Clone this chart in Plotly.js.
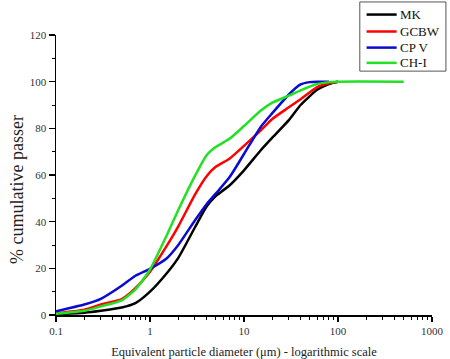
<!DOCTYPE html>
<html>
<head>
<meta charset="utf-8">
<script src="https://cdn.plot.ly/plotly-3.0.1.min.js"></script>
<style>
  html, body { margin: 0; padding: 0; background: #fff; }
  #chart { width: 450px; height: 359px; }
</style>
</head>
<body>
<div id="chart"></div>
<script>
// Particle size distributions: cumulative passing (%) vs equivalent diameter (µm)
const sizesMK   = [0.1, 0.2, 0.3, 0.5, 0.7, 1, 1.5, 2, 3, 4, 5, 7, 10, 15, 20, 30, 40, 60, 80, 100];
const passMK    = [0.4, 1.0, 1.8, 3.2, 5.1, 10, 17.8, 24.5, 37.5, 46.5, 51, 55.5, 62, 70.5, 76, 83.5, 90, 96.5, 99, 100];

const sizesGCBW = [0.1, 0.2, 0.3, 0.5, 0.7, 1, 1.5, 2, 3, 4, 5, 7, 10, 15, 20, 30, 40, 60, 80, 100];
const passGCBW  = [0.8, 2.3, 4.5, 6.8, 11.5, 18.5, 29.5, 38, 51.5, 59.5, 63.5, 67, 72.5, 79, 84, 89, 92.5, 97.7, 99.3, 100];

const sizesCPV  = [0.1, 0.2, 0.3, 0.5, 0.7, 1, 1.5, 2, 3, 4, 5, 7, 10, 15, 20, 30, 40, 50, 60, 80];
const passCPV   = [1.6, 4.5, 6.9, 12.5, 16.8, 19.8, 24.2, 30, 40.5, 47.5, 52, 59, 69, 80.5, 86.5, 94.5, 98.8, 99.8, 100, 100];

const sizesCHI  = [0.1, 0.2, 0.3, 0.5, 0.7, 1, 1.5, 2, 3, 4, 5, 7, 10, 15, 20, 30, 40, 60, 80, 100, 500];
const passCHI   = [0.5, 1.8, 3.7, 6.3, 11, 19.5, 34, 45, 59.5, 68.5, 72, 75.5, 81, 87.5, 91, 94, 96.3, 99, 99.8, 100, 100];

const seriesNames  = ['MK', 'GCBW', 'CP V', 'CH-I'];
const seriesColors = ['#000000', '#ff0000', '#0a0ad0', '#22e022'];
const seriesX = [sizesMK, sizesGCBW, sizesCPV, sizesCHI];
const seriesY = [passMK, passGCBW, passCPV, passCHI];

const xTickVals  = [0.1, 1, 10, 100, 1000];
const xTickText  = ['0.1', '1', '10', '100', '1000'];
const xMinorVals = [];
for (let dec = 0.1; dec < 1000; dec *= 10) {
  for (let k = 2; k <= 9; k++) xMinorVals.push(+(k * dec).toPrecision(3));
}

const serif = 'Liberation Serif, Times New Roman, serif';
const LINE_W = 2.5;

const traces = seriesNames.map((name, i) => ({
  x: seriesX[i],
  y: seriesY[i],
  name: name,
  type: 'scatter',
  mode: 'lines',
  showlegend: false,
  line: { color: seriesColors[i], width: LINE_W, shape: 'spline', smoothing: 0.6 }
}));

// Boxed key in the upper-right corner (paper coordinates)
const keyBox   = { x0: 0.808, x1: 1.037, y0: 0.871, y1: 1.118 };
const keyLineX = [0.826, 0.906];
const keyTextX = 0.909;
const keyRowsY = [1.073, 1.0125, 0.955, 0.9005];

const shapes = [{
  type: 'rect', xref: 'paper', yref: 'paper',
  x0: keyBox.x0, x1: keyBox.x1, y0: keyBox.y0, y1: keyBox.y1,
  line: { color: '#555555', width: 1 }, fillcolor: '#ffffff', layer: 'above'
}];
const annotations = [];
seriesNames.forEach((name, i) => {
  shapes.push({
    type: 'line', xref: 'paper', yref: 'paper',
    x0: keyLineX[0], x1: keyLineX[1], y0: keyRowsY[i], y1: keyRowsY[i],
    line: { color: seriesColors[i], width: LINE_W }, layer: 'above'
  });
  annotations.push({
    xref: 'paper', yref: 'paper', x: keyTextX, y: keyRowsY[i],
    xanchor: 'left', yanchor: 'middle', showarrow: false, text: name,
    font: { family: serif, size: 13, color: '#111111' }
  });
});

// Vertical axis title, set slightly below the plot's mid-height
annotations.push({
  xref: 'paper', yref: 'paper', x: -0.104, y: 0.45,
  xanchor: 'center', yanchor: 'middle', textangle: -90, showarrow: false,
  text: '% cumulative passer',
  font: { family: serif, size: 18, color: '#222222' }
});

const layout = {
  width: 450,
  height: 359,
  margin: { l: 56, r: 18, t: 34.5, b: 44 },
  paper_bgcolor: '#ffffff',
  plot_bgcolor: '#ffffff',
  font: { family: serif, color: '#333333', size: 11 },
  showlegend: false,
  shapes: shapes,
  annotations: annotations,
  xaxis: {
    type: 'log',
    range: [-1, 3],
    tickvals: xTickVals,
    ticktext: xTickText,
    showgrid: false,
    zeroline: false,
    showline: true,
    linecolor: '#000000',
    linewidth: 1.5,
    ticks: 'outside',
    ticklen: 5,
    tickwidth: 1.2,
    tickcolor: '#000000',
    minor: { ticks: 'outside', ticklen: 3, tickwidth: 1, tickcolor: '#000000', tickvals: xMinorVals },
    tickfont: { family: serif, size: 11, color: '#333333' },
    title: { text: 'Equivalent particle diameter (μm) - logarithmic scale', font: { family: serif, size: 12.5, color: '#222222' }, standoff: 12 }
  },
  yaxis: {
    range: [0, 120],
    dtick: 20,
    showgrid: false,
    zeroline: false,
    showline: true,
    linecolor: '#000000',
    linewidth: 1.5,
    ticks: 'outside',
    ticklen: 6,
    tickwidth: 1.2,
    tickcolor: '#000000',
    minor: { ticks: 'outside', ticklen: 3, tickwidth: 1, tickcolor: '#000000', dtick: 10 },
    tickfont: { family: serif, size: 11, color: '#333333' }
  }
};

Plotly.newPlot('chart', traces, layout, { displayModeBar: false, staticPlot: true });
</script>
</body>
</html>
